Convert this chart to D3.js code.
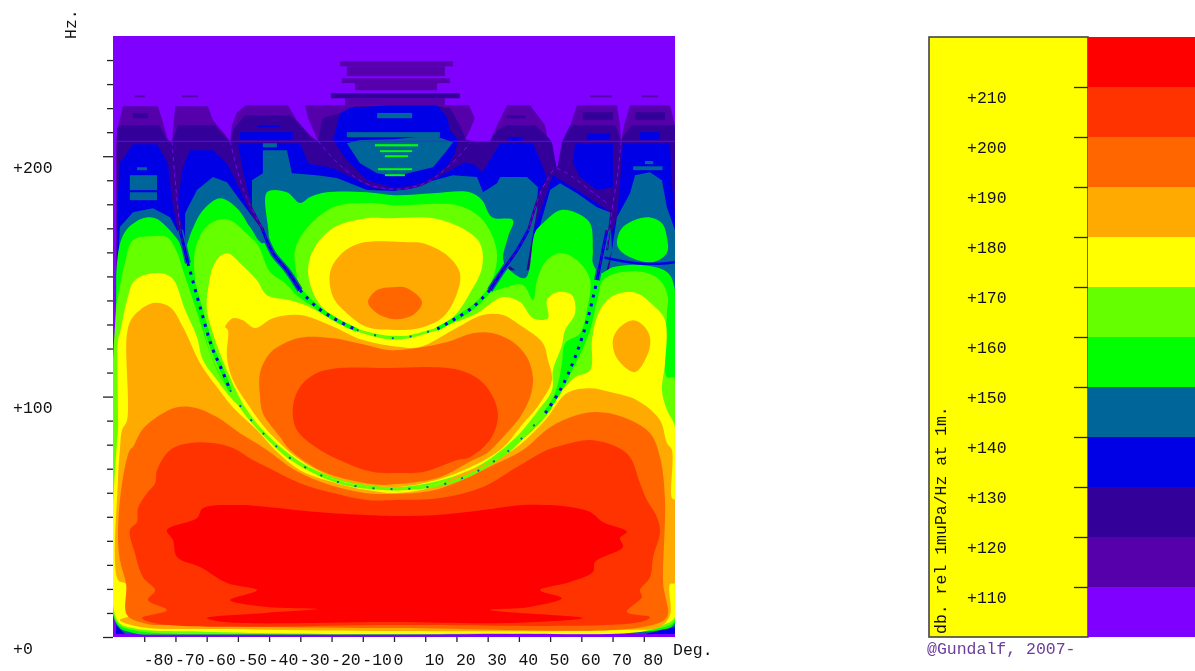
<!DOCTYPE html>
<html lang="en">
<head>
<meta charset="UTF-8">
<title>Sound pressure by angle and frequency</title>
<script src="https://d3js.org/d3.v7.min.js"></script>
<style>
    body { margin: 0; background: #fff; }
    svg { display: block; filter: blur(0.5px); }
    text { font-family: "Liberation Mono", monospace; font-size: 16.5px; fill: #111; }
</style>
</head>
<body>
<div id="chart"></div>
<script>
// Legend: lower edge of every dB band and its colour
const bandLevels = [100, 110, 120, 130, 140, 150, 160, 170, 180, 190, 200, 210];
const bandColors = ["#8000ff", "#5500aa", "#330099", "#0000e6", "#006699", "#00ff00", "#66ff00", "#ffff00", "#ffaa00", "#ff6600", "#ff3300", "#ff0000"];
const legendTicks = [110, 120, 130, 140, 150, 160, 170, 180, 190, 200, 210];
const degTicks = [-80, -70, -60, -50, -40, -30, -20, -10, 0, 10, 20, 30, 40, 50, 60, 70, 80];
const hzMinorTicks = [10, 20, 30, 40, 50, 60, 70, 80, 90, 110, 120, 130, 140, 150, 160, 170, 180, 190, 210, 220, 230, 240];
const hzMajorTicks = [0, 100, 200];

// Contours, every point is [deg, Hz]
const above110 = [[-89,1.2],[-89,206.7],[-88.1,214.1],[-86.8,220.8],[-75.6,220.8],[-74,214.1],[-72.4,206.7],[-71.1,205.8],[-70.5,215],[-70.1,220.8],[-59.6,220.8],[-58,215],[-54.5,209.6],[-52.5,206.2],[-51.9,212.9],[-50.3,218.3],[-47.4,221.2],[-34,221.2],[-31.1,215],[-26.9,208.7],[-24.3,206.2],[-27.5,215.8],[-28.5,221.2],[-15.7,221.2],[15.4,221.2],[24,221.2],[25.9,215.8],[24.3,210.8],[22.7,206.7],[26.3,206.2],[30.7,206.2],[33,212.9],[36.2,221.2],[43.6,221.2],[48.4,212.9],[49.3,206.2],[52.2,195],[55.1,206.2],[57,215],[58.6,221.2],[71.4,221.2],[72.4,212.9],[72.7,206.2],[73.7,212.9],[75.6,221.2],[88.4,221.2],[90,212.9],[90,1.2]];

const above120 = [[-88.7,1.2],[-88.7,211.6],[-87.8,212.9],[-75,212.9],[-73,207.1],[-71.1,205.8],[-69.2,212.9],[-57.3,212.9],[-53.2,206.7],[-52.2,205.8],[-51.6,210.8],[-47.7,217],[-33.3,217],[-30.1,212.9],[-26.3,207.5],[-24.3,206.2],[-23.1,215],[-22.1,216.2],[-15.7,218.3],[-12.5,220.8],[14.7,220.8],[17.9,220],[21.1,212.9],[23.1,206.7],[26.3,205.8],[30.7,205.8],[33,210.8],[36.2,212.9],[45.2,212.9],[49.3,207.9],[50.6,205.8],[52.2,194.2],[53.8,205.8],[56.4,212.9],[70.8,212.9],[72.1,208.7],[72.7,205.8],[73.7,208.7],[76.2,212.9],[88.4,212.9],[90,212.9],[90,1.2]];

const above130 = [
    [[-88.7,177.5],[-87.8,197.1],[-83.6,205],[-75.9,205],[-72.4,197.1],[-71.1,181.7],[-69.2,168.4],[-69.2,163],[-88.4,156.8]],
    [[-69.5,178.8],[-67.6,195.4],[-65.3,202.5],[-58,202.5],[-53.5,197.1],[-49.3,185.9],[-46.8,178.8],[-43.6,170.1],[-66.9,165.1]],
    [[-50,205.4],[-30.1,205.4],[-27.5,197.1],[-19.5,195],[-13.1,190.9],[-6.7,186.7],[0.3,185.9],[9.3,187.9],[17,193.3],[22.7,197.5],[25.9,196.3],[28.2,193.3],[30.7,198.3],[34,205.4],[44.5,205.4],[46.8,198.3],[49,190.9],[46.8,183.8],[40.4,165.1],[-36.5,165.1],[-42.3,171.3],[-46.1,181.7],[-48.4,194.2]],
    [[-17.3,217.9],[-14.1,220],[-1.3,221.2],[13.8,221.2],[17,216.2],[17.9,210.8],[20.5,206.7],[19.5,201.2],[16.3,194.2],[9.3,188.8],[0.3,186.7],[-8.6,190],[-15.1,198.3],[-19.5,206.7]],
    [[58,205.4],[70.1,205.4],[70.1,187.1],[65,185.9],[59.6,191.3],[57.3,197.1]],
    [[50.9,192.1],[58.6,185.9],[65,180.5],[69.2,176.7],[69.8,165.1],[43.6,165.1]],
    [[73.3,205.4],[88.4,205.4],[89,188.8],[90,175.5],[90,152.6],[69.8,152.6],[69.8,168],[71.4,174.6],[72.4,188.8]],
    [[-89,5],[-86.2,1.2],[-89,1.2]],
    [[80.4,1.2],[90,4.2],[90,1.2]]
];

const above140 = [
    [[-87.8,170.5],[-83.6,176.7],[-77.2,178.4],[-71.7,174.6],[-69.2,168.4],[-67.9,160.9],[-88.4,152.6]],
    [[-66.9,176.3],[-63.1,185.9],[-58,191.3],[-53.5,189.2],[-49.3,181.7],[-42.9,170.5],[-41.3,163],[-66.9,160.9]],
    [[-45.5,178.8],[-45.5,190],[-42,192.9],[-42,202.5],[-34.3,202.5],[-32.7,192.9],[-24.7,192.1],[-18.3,190.9],[-8.6,185.9],[0.3,185.5],[9.3,188.8],[18.9,192.1],[26.6,191.3],[28.5,185],[33,188.8],[34,191.3],[42.6,191.3],[46.1,187.1],[45.8,177.5],[42,149.3],[35.6,155.9],[-39.7,160.9],[-42.9,171.3]],
    [[50,185.9],[53.2,188.8],[58.6,184.6],[65,178.8],[69.2,176.7],[69.8,160.9],[67.6,150.5],[43.6,156.8]],
    [[69.8,160.9],[71.4,174.6],[75.6,184.6],[77.2,192.1],[82,193.3],[85.8,190],[87.4,178.8],[90,169.2],[90,142.2],[67.6,142.2]],
    [[-15.1,205.4],[-10.9,197.1],[-5.4,192.9],[0.3,191.7],[12.5,195.4],[17,202.5],[18.9,205.8],[12.5,208.7],[0.3,207],[-10.9,206.7]],
    [[-89,152.6],[90,152.6],[90,4.2],[80.4,1.2],[-86.2,1.2],[-89,5]]
];

const above150 = [
    [[-89,5.8],[-89,140.1],[-88.7,155.9],[-87.4,165.1],[-85.2,170.1],[-80.4,174.2],[-76.5,174.2],[-73,170.9],[-69.2,165.1],[-67.3,160.9],[-64.7,169.2],[-61.2,177.5],[-55.7,182.5],[-50.3,178.4],[-46.1,170.5],[-42.3,163.8],[-40.4,165.1],[-40.7,185],[-34.3,185],[-30.1,180.5],[-26.9,183],[-21.5,185],[-8.6,185],[0.3,183.8],[12.5,184.6],[24.3,185],[28.2,181.7],[31.4,174.6],[38.1,173.4],[36.5,166.3],[35.2,155.9],[42,149.3],[45.2,168.4],[47.7,172.1],[53.2,177.5],[58.6,176.3],[62.8,172.1],[63.7,160.9],[63.7,155.5],[66,151.4],[70.1,153.8],[78.8,154.7],[87.4,151.8],[90,144.3],[90,5.8],[85.2,2.9],[71.4,2.1],[26.6,1.2],[-24.7,0.8],[-83.6,1.7]],
    [[71.4,163.8],[73.3,170.5],[81,174.6],[85.8,172.1],[87.4,166.3],[87.4,159.7],[83,155.9],[75.6,158],[72.4,160.9]]
];

const above160 = [
    [[-89,6.7],[-89,136],[-88.4,141.4],[-86.2,155.5],[-83.6,165.1],[-78.2,166.7],[-72.7,166.3],[-69.8,160.9],[-67.6,152.6],[-64.7,141.4],[-62.1,131],[-59.6,120.6],[-56.4,110.2],[-52.5,101.9],[-47.1,91.5],[-37.5,78.2],[-23.7,66.5],[0.3,60.7],[24.3,66.5],[38.1,78.2],[48.4,92.3],[53.2,101.9],[58,113.1],[62.8,127.7],[65.3,141.4],[66.9,148.4],[71.4,151.4],[79.8,151.8],[85.2,148.4],[87.7,141.4],[87.4,134.7],[87.4,108.1],[90,107.7],[90,7.1],[85.2,3.7],[72.4,2.5],[27.5,1.2],[0.3,1],[-42.9,1.2],[-83.6,2.9]],
    [[-63.7,160.9],[-60.5,170.1],[-56.7,173.4],[-52.5,173.4],[-47.7,168.4],[-43.6,163],[-39.7,151.8],[-34.9,147.2],[-30.1,141],[-23.7,136],[-15.7,131],[-7.7,126.8],[0.3,124.7],[8.3,125.6],[18.9,131.8],[30.7,143],[34.9,145.1],[41.3,146.4],[44.5,140.1],[45.8,148.4],[49,156.8],[53.8,159.7],[59.6,155.5],[62.8,148.4],[61.8,136],[59.6,126.4],[54.8,122.2],[53.8,113.9],[52.2,104],[48.4,93.1],[38.1,79],[24.3,67.4],[0.3,61.5],[-23.7,67.4],[-37.5,79],[-47.1,92.3],[-52.5,102.7],[-56.4,111],[-59.6,121.4],[-62.1,137.2],[-63.7,148.4]],
    [[-31.7,160.9],[-27.9,170.1],[-19.5,178.8],[-8.6,180.5],[0.3,179.6],[20.2,179.6],[27.5,174.6],[31.7,166.3],[33,157.6],[30.7,146.4],[25.3,138],[18.9,131.8],[13.8,128.1],[8.3,125.6],[0.3,124.7],[-10.9,127.7],[-18.9,132.6],[-25.3,138],[-30.1,145.5],[-31.4,152.6]]
];

const above170 = [
    [[-88.4,123.5],[-87.8,126.4],[-85.5,140.1],[-83,148.4],[-75.9,151.4],[-71.1,149.3],[-66.9,136],[-63.1,124.7],[-61.2,115.2],[-56.7,106.9],[-51.6,98.5],[-47.1,93.1],[-37.5,79],[-23.7,67.8],[0.3,61.5],[24.3,67.8],[38.1,79],[49,92.3],[53.2,101.5],[58,108.1],[62.8,111],[63.4,123.5],[65,133.1],[68.2,140.1],[72.4,143],[77.8,143],[83,138],[86.8,131.8],[86.8,113.9],[85.8,102.7],[87.4,94.4],[90,87.3],[90,8.3],[86.2,5],[78.8,2.1],[27.5,1.5],[0.3,1.2],[-58.9,2.1],[-83.6,3.7],[-88.7,7.1],[-88.7,81.9],[-88.4,86.1]],
    [[-53.5,159.7],[-49.3,155.5],[-43.9,148.4],[-40.7,142.2],[-33.3,140.1],[-26.9,137.2],[-19.5,131.8],[-10.9,126.8],[1.9,123.9],[18.9,130.6],[26.6,134.7],[34.9,141.4],[40.4,139.3],[44.5,132.6],[49.3,132.6],[49,140.1],[52.2,143.4],[57,142.2],[58,134.7],[54.8,127.7],[53.8,121.4],[50.9,111],[50.6,102.7],[45.8,93.6],[38.1,81.9],[24.3,69.4],[0.3,62.4],[-23.7,68.6],[-37.5,80.3],[-47.1,94.4],[-53.5,111],[-58,126.4],[-59.9,136],[-59.6,144.3],[-57.3,155.9]],
    [[-19.5,170.1],[-8.6,174.2],[-1.3,174.2],[12.5,174.2],[21.1,170.5],[27.5,163.8],[28.2,153.8],[24.3,143],[18.9,133.1],[9.3,126.4],[0.3,125.2],[-3.5,125.6],[-13.1,128.5],[-19.5,133.1],[-24.7,140.1],[-27.5,151.4],[-25.9,160.9]]
];

const above180 = [
    [[-85.5,126.4],[-83.6,133.1],[-77.2,138.9],[-71.7,137.2],[-67.6,128.9],[-62.1,113.9],[-56.7,104],[-51.6,95.6],[-43.9,86.1],[-38.1,77.8],[-30.1,69.4],[-19.5,64.4],[-8.6,61.1],[0.3,59.9],[12.5,62.4],[22.1,68.2],[34,74.8],[39.4,79],[48.4,90.2],[55.4,101.5],[62.8,103.5],[69.2,101.9],[77.8,98.5],[85.2,90.2],[87.4,80.7],[89,77.8],[89,57.8],[90,57],[90,22.5],[88.4,22],[88.4,9.1],[85.2,4.2],[72.4,2.9],[0.3,2.5],[-51.6,3.3],[-81.4,4.2],[-87.8,7.1],[-84.6,9.1],[-85.8,22],[-88.4,23.7],[-88.4,65.3],[-87.8,77.8],[-87.1,86.1],[-85.5,90.2]],
    [[-54.1,128.9],[-51.6,132.6],[-48.4,131.8],[-44.5,128.5],[-38.8,132.6],[-30.1,133.9],[-20.5,129.7],[-9.9,123.5],[1.9,120.6],[8.3,120.6],[18.9,127.7],[28.5,133.9],[34.9,133.9],[41.3,128.9],[47.7,122.2],[49.3,115.2],[50.6,106.9],[46.8,97.3],[40.4,87.3],[34,77.8],[20.2,68.2],[9.3,64],[0.3,62.4],[-8.6,63.2],[-19.5,66.5],[-30.1,73.6],[-40.7,86.1],[-47.1,97.3],[-51.6,106.9],[-53.5,116.4],[-53.2,127.7]],
    [[-10.9,163.8],[5.1,164.2],[9.3,163.8],[17,158.8],[21.1,151.4],[20.2,143],[15.7,133.1],[8.3,128.5],[0.3,127.7],[-8.6,128.9],[-15.1,134.7],[-19.5,141.4],[-20.5,151.4],[-17.3,158.8]],
    [[76.6,131.8],[79.8,129.7],[82,124.7],[81.4,118.1],[77.2,110.2],[71.4,116],[70.1,123.5],[72.4,128.9]]
];

const above190 = [
    [[-83.6,79],[-80.7,86.1],[-75,92.3],[-69.5,95.6],[-63.1,95.2],[-56.7,91.5],[-49.3,84.8],[-40.7,77.8],[-31.7,69.4],[-20.5,63.2],[-9.3,59.9],[0.3,59.5],[11.5,60.7],[20.2,64.4],[33,72.3],[41.3,77.8],[50,87.3],[58.6,92.3],[65,93.6],[73.3,91.5],[82,84.8],[85.2,74.8],[86.8,57],[86.2,22.5],[87.4,8.3],[79.8,4.2],[0.3,3.7],[-72.7,5],[-79.1,5.4],[-85.5,9.1],[-85.8,22],[-87.8,32],[-88.4,43.2],[-87.1,64],[-84.6,77.8]],
    [[-42.9,99.8],[-42.9,109.8],[-39.7,118.1],[-34.3,122.7],[-29.1,124.7],[-19.5,124.3],[-8.6,121.4],[-1.3,119.3],[7.4,120.2],[17,122.7],[25.3,126.4],[31.7,126.4],[38.1,122.7],[42.6,116.4],[44.5,108.1],[43.6,99.8],[40.4,91.5],[34.9,83.2],[29.8,76.5],[25.3,73.6],[14.7,66.5],[4.2,64],[0.3,63.6],[-3.5,63.2],[-14.1,65.3],[-23.7,69.4],[-33.3,77.8],[-36.5,83.2],[-42,93.1]],
    [[-8.3,139.3],[-5.4,144.3],[-0.3,145.5],[4.2,145.1],[9,139.3],[6.1,133.9],[0.3,132.2],[-5.4,134.7]]
];

const above200 = [
    [[-71.7,77.8],[-65.3,80.7],[-58,80.7],[-51.6,78.6],[-45.2,73.6],[-40.7,70.7],[-30.1,64],[-19.5,59.9],[-8.6,57],[0.3,57],[14.7,57.8],[28.5,62.4],[39.4,70.7],[49,77.8],[54.1,79.8],[62.8,81.9],[71.4,79],[75.6,74.8],[78.8,64],[81,57],[84.2,49.9],[85.2,43.7],[83,33.3],[82,24.9],[78.8,19.5],[79.4,16.6],[74.6,10.4],[82,8.3],[78.8,6.2],[0.3,5],[-75,5.4],[-80.7,7.9],[-72.7,11.2],[-78.8,15.4],[-76.5,19.5],[-80.4,24.9],[-83,34.9],[-84.6,44.5],[-82.3,47.8],[-82,53.6],[-79.1,59.9],[-76.5,64],[-75.9,69.4]],
    [[-32.4,95.6],[-30.1,104],[-24.7,109.8],[-17.3,111.9],[-1.3,111.9],[11.5,112.3],[21.1,111],[27.5,106.9],[31.7,99.8],[33.3,91.5],[30.7,81.9],[24.3,74.8],[20.2,73.6],[9.3,68.6],[1.9,68.2],[-6.7,68.6],[-15.1,72.3],[-23.7,77.8],[-31.1,86.1]]
];

const above210 = [[-72.7,44.5],[-63.1,49.5],[-61.2,53.6],[-49.3,54.9],[-40.7,54.1],[-24.7,52],[-8.6,50.7],[0.3,50.3],[13.8,50.7],[28.5,52.8],[41.3,54.9],[56.4,54.1],[62.8,52],[66.9,47.8],[74.6,43.7],[72.4,41.2],[73.3,37.4],[64.4,31.2],[63.7,27],[56.4,22.9],[46.8,19.5],[53.8,16.2],[43.6,12.5],[30.7,11.2],[60.5,7.9],[36.2,5.8],[0.3,6.2],[-54.1,6.2],[-59.9,7.9],[-41.3,10],[-24.7,11.6],[-40.7,12.5],[-52.5,15.4],[-43.9,19.5],[-53.5,22.5],[-62.1,29.1],[-69.5,33.3],[-70.8,40.3]];

// Index here is the index in bandColors, the first band is the plot background
const contoursByBand = [[], [above110], [above120], above130, above140, above150, above160, above170, above180, above190, above200, [above210]];

// Horizontal streaks at the top: [deg from, deg to, Hz from, Hz to, band index]
const streaks = [
    [-17.3,18.9,237.4,239.5,1], [-15.1,16.3,233.3,237.4,1], [-16.7,17.9,230.4,232.4,1], [-12.5,13.8,227.4,230.4,1],
    [-15.7,16.3,221.2,224.1,1], [-83,-79.8,224.5,225.3,1], [-67.9,-62.8,224.5,225.3,1], [62.8,69.8,224.5,225.3,1], [79.4,84.6,224.5,225.3,1],
    [-20.2,21.1,224.1,226.2,2], [-83.6,-78.8,215.8,217.9,2], [60.5,70.1,215,218.3,2], [77.2,86.8,215,218.3,2], [36.2,42,215.8,217,2],
    [-49.3,-32.4,206.7,210,3], [-43.9,-36.5,212,212.9,3], [36.2,41.3,206.2,207.9,3], [61.8,69.2,206.7,209.6,3], [78.8,85.2,206.7,210,3],
    [-84.6,-75.9,185.9,192.1,4], [-84.6,-75.9,181.7,185,4], [-82.3,-79.1,194.2,195.4,4], [-42,-37.5,203.7,205.4,4], [-5.4,5.8,215.8,218,4],
    [76.6,86,194.2,195.8,4], [80.4,83,196.7,198,4], [-15.1,14.7,207.9,210,4],
    [-6.1,7.7,204.1,205,5], [-4.5,5.8,201.7,202.5,5], [-2.9,4.5,199.6,200.4,5], [-5.1,5.8,194.2,195,5], [-2.9,3.5,191.7,192.5,5]
];

// Null lines of the beam pattern
const outerStrongL = [[-68.5,169.2],[-66,155.5]];
const outerMidL = [[-66,155.5],[-62.1,137.2],[-58.3,120.6],[-55.1,111],[-52.5,102.7]];
const outerWeak = [[-52.5,102.7],[-47.1,92.3],[-37.5,79],[-33.3,74.4],[-23.7,67.4],[-14.1,63.2],[0.3,61.5],[14.7,63.2],[24.3,67.4],[34,74.8],[38.1,79],[48.4,93.1]];
const outerMidR = [[48.4,93.1],[53.2,102.7],[58,116.4],[62.1,132.6],[65,148.4]];
const outerStrongR = [[65,148.4],[66.9,160.9],[68.2,169.2]];
const innerStrongL = [[-42.3,170.1],[-38.8,159.7],[-34.3,152.6],[-30.1,144.3]];
const innerMidL = [[-30.1,144.3],[-24.7,137.2],[-18.3,131.8],[-11.9,127.7]];
const innerWeak = [[-11.9,127.7],[-3.5,124.7],[0.3,124.3],[4.2,124.7],[13.8,128.1]];
const innerMidR = [[13.8,128.1],[18.9,131.8],[25.3,137.2],[30.7,144.3]];
const innerStrongR = [[30.7,144.3],[34.9,152.6],[39.4,160.9],[43,169.2]];
const thinA = [[-71.1,206.2],[-70.1,190],[-68.5,169.2]];
const thinB = [[-52.5,206.2],[-49.3,190],[-46.1,179.6],[-42.3,170.1]];
const thinArch = [[-24.3,206.2],[-17.3,196.3],[-9.3,188.8],[0.3,186.3],[9.9,188.8],[17.9,196.3],[24.3,205.4]];
const thinC = [[50.9,194.2],[49,190],[46.8,184.6],[43,169.2]];
const thinD = [[52.2,195],[55.4,192.9],[68.2,180.5]];
const thinE = [[72.7,206.2],[71.8,194.2],[69.8,177.5],[68.2,160.9]];
const thinF = [[66.9,158],[77.8,155.5],[87.4,155.5],[90,155.9]];
const thinHz = 206.2;

const svg = d3.select("#chart").append("svg").attr("width", 1195).attr("height", 671);

const x = d3.scaleLinear().domain([-90, 90]).range([113, 675]);
const y = d3.scaleLinear().domain([0, 250]).range([637, 36]);
const legendY = d3.scaleLinear().domain([100, 220]).range([637, 37]);

svg.append("clipPath").attr("id", "plot-clip").append("rect")
    .attr("x", x(-90)).attr("y", y(250)).attr("width", x(90) - x(-90)).attr("height", y(0) - y(250));

const plot = svg.append("g").attr("clip-path", "url(#plot-clip)");

plot.append("rect")
    .attr("x", x(-90)).attr("y", y(250)).attr("width", x(90) - x(-90)).attr("height", y(0) - y(250))
    .attr("fill", bandColors[0]);

// The low bands have sharp corners in the picture, the high ones are round
const sharpOutline = d3.line().x(d => x(d[0])).y(d => y(d[1])).curve(d3.curveLinearClosed);
const roundOutline = d3.line().x(d => x(d[0])).y(d => y(d[1])).curve(d3.curveCatmullRomClosed.alpha(0.5));
const polyline = d3.line().x(d => x(d[0])).y(d => y(d[1])).curve(d3.curveCatmullRom.alpha(0.5));

// Paint the bands from the lowest to the highest, each one sits inside the one before
contoursByBand.forEach((polygons, band) => {
    plot.selectAll(".band" + band)
        .data(polygons)
        .enter().append("path")
        .attr("d", band <= 4 ? sharpOutline : roundOutline)
        .attr("fill", bandColors[band]);
    plot.selectAll(".streak" + band)
        .data(streaks.filter(s => s[4] === band))
        .enter().append("rect")
        .attr("x", d => x(d[0]))
        .attr("width", d => x(d[1]) - x(d[0]))
        .attr("y", d => y(d[3]))
        .attr("height", d => y(d[2]) - y(d[3]))
        .attr("fill", bandColors[band]);
});

// Thin purple nulls over the upper lobes
[thinA, thinB, thinArch, thinC, thinD, thinE].forEach(pts => {
    plot.append("path").attr("d", polyline(pts)).attr("fill", "none")
        .attr("stroke", "#330099").attr("stroke-width", 2.4);
    plot.append("path").attr("d", polyline(pts)).attr("fill", "none")
        .attr("stroke", "#8000ff").attr("stroke-width", 1).attr("stroke-dasharray", "4 4");
});
plot.append("path").attr("d", polyline(thinF)).attr("fill", "none")
    .attr("stroke", "#0000e6").attr("stroke-width", 2.5);

// Lower nulls: deep and blue up high, fading to a thin green line along the arches
[outerStrongL, outerStrongR, innerStrongL, innerStrongR].forEach(pts => {
    plot.append("path").attr("d", polyline(pts)).attr("fill", "none")
        .attr("stroke", "#006699").attr("stroke-width", 6);
    plot.append("path").attr("d", polyline(pts)).attr("fill", "none")
        .attr("stroke", "#0000e6").attr("stroke-width", 3);
    plot.append("path").attr("d", polyline(pts)).attr("fill", "none")
        .attr("stroke", "#5500aa").attr("stroke-width", 1.2).attr("stroke-dasharray", "4 4");
});
[outerMidL, outerMidR, innerMidL, innerMidR].forEach(pts => {
    plot.append("path").attr("d", polyline(pts)).attr("fill", "none")
        .attr("stroke", "#00ff00").attr("stroke-width", 4);
    plot.append("path").attr("d", polyline(pts)).attr("fill", "none")
        .attr("stroke", "#0000e6").attr("stroke-width", 3).attr("stroke-dasharray", "3 6");
});
[outerWeak, innerWeak].forEach(pts => {
    plot.append("path").attr("d", polyline(pts)).attr("fill", "none")
        .attr("stroke", "#66ff00").attr("stroke-width", 2.6);
    plot.append("path").attr("d", polyline(pts)).attr("fill", "none")
        .attr("stroke", "#006699").attr("stroke-width", 2).attr("stroke-dasharray", "2 16");
});

plot.append("line")
    .attr("x1", x(-90)).attr("x2", x(90)).attr("y1", y(thinHz)).attr("y2", y(thinHz))
    .attr("stroke", "#8000ff").attr("stroke-width", 1).attr("stroke-opacity", 0.8);

// Bottom edge of the plot stays in the lowest band
plot.append("rect")
    .attr("x", x(-90)).attr("width", x(90) - x(-90))
    .attr("y", y(1)).attr("height", y(0) - y(1))
    .attr("fill", bandColors[0]);

// Axes
const hzMinor = svg.append("g").attr("transform", `translate(${x(-90)},0)`)
    .call(d3.axisLeft(y).tickValues(hzMinorTicks).tickSize(6).tickFormat(""));
const hzMajor = svg.append("g").attr("transform", `translate(${x(-90)},0)`)
    .call(d3.axisLeft(y).tickValues(hzMajorTicks).tickSize(10).tickFormat(d => "+" + d));
hzMajor.selectAll("text").attr("x", -100).attr("y", 16).attr("dy", 0).attr("text-anchor", "start");

const degAxis = svg.append("g").attr("transform", `translate(0,${y(0)})`)
    .call(d3.axisBottom(x).tickValues(degTicks).tickSize(5).tickFormat(d => String(d)));
degAxis.selectAll("text").attr("x", -1).attr("y", 28).attr("dy", 0).attr("text-anchor", "start");

[hzMinor, hzMajor, degAxis].forEach(a => {
    a.select(".domain").remove();
    a.selectAll("line").attr("stroke", "#222").attr("stroke-width", 1.3);
});

svg.append("text").attr("x", 673).attr("y", 655).text("Deg.");
svg.append("text").attr("transform", "translate(76,39) rotate(-90)").text("Hz.");

// Legend panel
svg.append("rect")
    .attr("x", 929).attr("y", legendY(220)).attr("width", 159).attr("height", legendY(100) - legendY(220))
    .attr("fill", "#ffff00").attr("stroke", "#444").attr("stroke-width", 1.6);

svg.selectAll(".legend-band")
    .data(bandLevels)
    .enter().append("rect")
    .attr("class", "legend-band")
    .attr("x", 1088).attr("width", 107)
    .attr("y", d => legendY(d + 10))
    .attr("height", d => legendY(d) - legendY(d + 10))
    .attr("fill", (d, i) => bandColors[i]);

const legendAxis = svg.append("g").attr("transform", "translate(1088,0)")
    .call(d3.axisLeft(legendY).tickValues(legendTicks).tickSize(14).tickFormat(d => "+" + d));
legendAxis.select(".domain").remove();
legendAxis.selectAll("line").attr("stroke", "#222").attr("stroke-width", 1.3);
legendAxis.selectAll("text").attr("x", -121).attr("y", 15).attr("dy", 0).attr("text-anchor", "start");

svg.append("text").attr("transform", "translate(946,634) rotate(-90)").text("db. rel 1muPa/Hz at 1m.");
svg.append("text").attr("x", 927).attr("y", 654).style("fill", "#6a3d9a").text("@Gundalf, 2007-");
</script>
</body>
</html>
